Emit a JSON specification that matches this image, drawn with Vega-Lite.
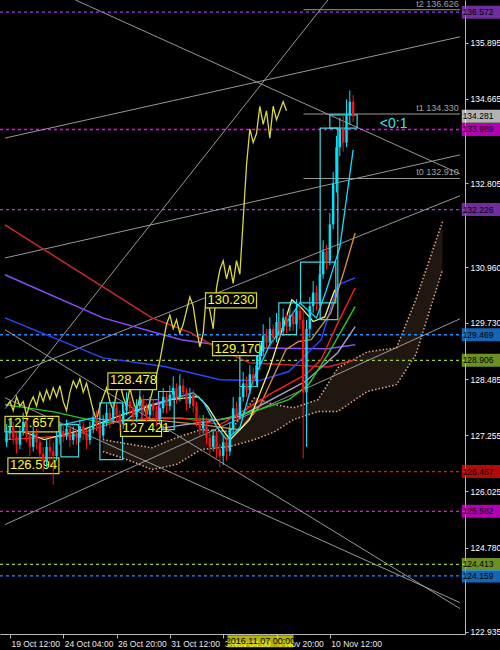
{
"$schema": "https://vega.github.io/schema/vega-lite/v6.json",
"width": 465, "height": 634,
"autosize": {"type": "none"},
"padding": {"left": 0, "top": 0, "right": 35, "bottom": 16},
"background": "#000000",
"config": {"view": {"stroke": null}, "axis": {"grid": false, "labelFont": "Liberation Sans", "labelFontSize": 8.5, "labelColor": "#ffffff", "domainColor": "#b8b8b8", "tickColor": "#b8b8b8"}, "text": {"font": "Liberation Sans"}},
"datasets": {
"candles": [
{"i":-1,"o":127.10,"h":127.50,"l":127.00,"c":127.30},{"i":0,"o":127.30,"h":127.60,"l":127.15,"c":127.45},{"i":1,"o":127.45,"h":127.55,"l":127.05,"c":127.20},{"i":2,"o":127.20,"h":127.30,"l":126.85,"c":127.05},{"i":3,"o":127.05,"h":127.45,"l":126.95,"c":127.35},{"i":4,"o":127.35,"h":127.75,"l":127.25,"c":127.55},{"i":5,"o":127.55,"h":127.60,"l":127.10,"c":127.25},{"i":6,"o":127.25,"h":127.35,"l":126.80,"c":127.00},{"i":7,"o":127.00,"h":127.45,"l":126.90,"c":127.30},{"i":8,"o":127.30,"h":127.40,"l":126.95,"c":127.10},{"i":9,"o":127.10,"h":127.20,"l":126.70,"c":126.85},{"i":10,"o":126.85,"h":127.00,"l":126.45,"c":126.70},{"i":11,"o":126.70,"h":127.15,"l":126.55,"c":127.00},{"i":12,"o":127.00,"h":127.20,"l":126.60,"c":126.90},{"i":13,"o":126.90,"h":127.10,"l":126.17,"c":126.80},{"i":14,"o":126.80,"h":127.35,"l":126.70,"c":127.20},{"i":15,"o":127.20,"h":127.55,"l":127.05,"c":127.35},{"i":16,"o":127.35,"h":127.50,"l":127.10,"c":127.25},{"i":17,"o":127.25,"h":127.60,"l":127.15,"c":127.40},{"i":18,"o":127.40,"h":127.50,"l":127.00,"c":127.15},{"i":19,"o":127.15,"h":127.45,"l":127.05,"c":127.30},{"i":20,"o":127.30,"h":127.40,"l":127.05,"c":127.20},{"i":21,"o":127.20,"h":127.60,"l":127.10,"c":127.45},{"i":22,"o":127.45,"h":127.55,"l":127.15,"c":127.30},{"i":23,"o":127.30,"h":127.40,"l":126.95,"c":127.15},{"i":24,"o":127.15,"h":127.55,"l":127.05,"c":127.40},{"i":25,"o":127.40,"h":127.85,"l":127.30,"c":127.65},{"i":26,"o":127.65,"h":127.80,"l":127.35,"c":127.50},{"i":27,"o":127.50,"h":127.60,"l":127.10,"c":127.25},{"i":28,"o":127.25,"h":127.70,"l":127.15,"c":127.55},{"i":29,"o":127.55,"h":127.95,"l":127.45,"c":127.75},{"i":30,"o":127.75,"h":127.85,"l":127.40,"c":127.60},{"i":31,"o":127.60,"h":128.00,"l":127.50,"c":127.85},{"i":32,"o":127.85,"h":127.95,"l":127.55,"c":127.70},{"i":33,"o":127.70,"h":127.80,"l":127.35,"c":127.50},{"i":34,"o":127.50,"h":127.95,"l":127.40,"c":127.80},{"i":35,"o":127.80,"h":128.20,"l":127.70,"c":128.00},{"i":36,"o":128.00,"h":128.10,"l":127.70,"c":127.85},{"i":37,"o":127.85,"h":127.95,"l":127.50,"c":127.65},{"i":38,"o":127.65,"h":128.05,"l":127.55,"c":127.90},{"i":39,"o":127.90,"h":128.25,"l":127.80,"c":128.05},{"i":40,"o":128.05,"h":128.15,"l":127.70,"c":127.85},{"i":41,"o":127.85,"h":127.95,"l":127.55,"c":127.70},{"i":42,"o":127.70,"h":128.10,"l":127.60,"c":127.95},{"i":43,"o":127.95,"h":128.05,"l":127.65,"c":127.80},{"i":44,"o":127.80,"h":127.90,"l":127.45,"c":127.60},{"i":45,"o":127.60,"h":128.00,"l":127.50,"c":127.85},{"i":46,"o":127.85,"h":128.30,"l":127.75,"c":128.10},{"i":47,"o":128.10,"h":128.20,"l":127.75,"c":127.90},{"i":48,"o":127.90,"h":128.35,"l":127.80,"c":128.15},{"i":49,"o":128.15,"h":128.55,"l":128.05,"c":128.30},{"i":50,"o":128.30,"h":128.40,"l":127.95,"c":128.10},{"i":51,"o":128.10,"h":128.60,"l":128.00,"c":128.35},{"i":52,"o":128.35,"h":128.50,"l":128.05,"c":128.20},{"i":53,"o":128.20,"h":128.30,"l":127.80,"c":127.95},{"i":54,"o":127.95,"h":128.30,"l":127.85,"c":128.15},{"i":55,"o":128.15,"h":128.25,"l":127.75,"c":127.90},{"i":56,"o":127.90,"h":128.00,"l":127.45,"c":127.60},{"i":57,"o":127.60,"h":127.70,"l":127.25,"c":127.40},{"i":58,"o":127.40,"h":127.70,"l":127.30,"c":127.55},{"i":59,"o":127.55,"h":127.65,"l":127.05,"c":127.20},{"i":60,"o":127.20,"h":127.30,"l":126.80,"c":127.00},{"i":61,"o":127.00,"h":127.40,"l":126.90,"c":127.25},{"i":62,"o":127.25,"h":127.35,"l":126.75,"c":126.95},{"i":63,"o":126.95,"h":127.05,"l":126.55,"c":126.80},{"i":64,"o":126.80,"h":127.25,"l":126.60,"c":127.10},{"i":65,"o":127.10,"h":127.20,"l":126.70,"c":126.90},{"i":66,"o":126.90,"h":127.55,"l":126.80,"c":127.40},{"i":67,"o":127.40,"h":128.10,"l":127.30,"c":127.85},{"i":68,"o":127.85,"h":128.00,"l":127.55,"c":127.70},{"i":69,"o":127.70,"h":128.30,"l":127.60,"c":128.10},{"i":70,"o":128.10,"h":128.65,"l":128.00,"c":128.40},{"i":71,"o":128.40,"h":128.55,"l":128.10,"c":128.25},{"i":72,"o":128.25,"h":128.80,"l":128.15,"c":128.60},{"i":73,"o":128.60,"h":128.75,"l":128.30,"c":128.45},{"i":74,"o":128.45,"h":129.00,"l":128.35,"c":128.80},{"i":75,"o":128.80,"h":129.30,"l":128.70,"c":129.10},{"i":76,"o":129.10,"h":129.70,"l":129.00,"c":129.45},{"i":77,"o":129.45,"h":129.60,"l":129.15,"c":129.30},{"i":78,"o":129.30,"h":129.85,"l":129.20,"c":129.60},{"i":79,"o":129.60,"h":129.70,"l":129.25,"c":129.40},{"i":80,"o":129.40,"h":129.95,"l":129.30,"c":129.75},{"i":81,"o":129.75,"h":129.85,"l":129.40,"c":129.55},{"i":82,"o":129.55,"h":130.05,"l":129.45,"c":129.85},{"i":83,"o":129.85,"h":129.95,"l":129.50,"c":129.65},{"i":84,"o":129.65,"h":130.10,"l":129.55,"c":129.90},{"i":85,"o":129.90,"h":130.00,"l":129.55,"c":129.70},{"i":86,"o":129.70,"h":130.25,"l":129.60,"c":130.00},{"i":87,"o":130.00,"h":130.10,"l":129.60,"c":129.80},{"i":88,"o":129.80,"h":130.00,"l":126.75,"c":128.20},{"i":89,"o":128.20,"h":129.80,"l":127.00,"c":129.60},{"i":90,"o":129.60,"h":130.30,"l":129.40,"c":130.10},{"i":91,"o":130.10,"h":130.65,"l":129.95,"c":130.40},{"i":92,"o":130.40,"h":130.55,"l":130.00,"c":130.20},{"i":93,"o":130.20,"h":131.00,"l":130.10,"c":130.80},{"i":94,"o":130.80,"h":131.55,"l":130.70,"c":131.30},{"i":95,"o":131.30,"h":131.45,"l":130.90,"c":131.10},{"i":96,"o":131.10,"h":132.15,"l":131.00,"c":131.90},{"i":97,"o":131.90,"h":133.05,"l":131.80,"c":132.80},{"i":98,"o":132.80,"h":133.85,"l":132.60,"c":133.60},{"i":99,"o":133.60,"h":134.25,"l":133.40,"c":134.00},{"i":100,"o":134.00,"h":134.30,"l":133.50,"c":133.70},{"i":101,"o":133.70,"h":134.65,"l":133.60,"c":134.30},{"i":102,"o":134.30,"h":134.85,"l":134.10,"c":134.60},{"i":103,"o":134.60,"h":134.75,"l":134.15,"c":134.28}
],
"cloud": [
{"i":27.9,"a":127.16,"b":126.90},{"i":36.7,"a":127.05,"b":126.68},{"i":42.6,"a":126.98,"b":126.50},{"i":49.9,"a":127.20,"b":126.61},{"i":57.3,"a":127.38,"b":126.94},{"i":66.1,"a":127.34,"b":127.01},{"i":73.4,"a":128.08,"b":127.16},{"i":79.3,"a":127.93,"b":127.33},{"i":85.1,"a":127.86,"b":127.60},{"i":92.5,"a":128.04,"b":127.78},{"i":98.4,"a":128.74,"b":127.78},{"i":107.2,"a":129.09,"b":128.22},{"i":116,"a":129.18,"b":128.37},{"i":121.8,"a":130.24,"b":129.03},{"i":129.8,"a":131.96,"b":130.90}
],
"ma": [
{"s":"purple","i":-1.5,"p":130.79},{"s":"purple","i":27.9,"p":129.84},{"s":"purple","i":51.4,"p":129.36},{"s":"purple","i":69,"p":129.18},{"s":"purple","i":95.4,"p":129.16},{"s":"purple","i":103.6,"p":129.25},
{"s":"redl","i":-1.5,"p":131.89},{"s":"redl","i":42.6,"p":129.84},{"s":"redl","i":54.3,"p":129.51},{"s":"redl","i":63.1,"p":129.14},{"s":"redl","i":71.9,"p":128.85},{"s":"redl","i":95.4,"p":128.76},{"s":"redl","i":103.6,"p":128.92},
{"s":"blue","i":-1.5,"p":129.84},{"s":"blue","i":27.9,"p":128.96},{"s":"blue","i":46.4,"p":128.77},{"s":"blue","i":63.1,"p":128.48},{"s":"blue","i":74.9,"p":128.46},{"s":"blue","i":83.7,"p":128.66},{"s":"blue","i":93.4,"p":129.36},{"s":"blue","i":98.4,"p":130.57},{"s":"blue","i":103.6,"p":130.72},
{"s":"lav","i":42.6,"p":127.38},{"s":"lav","i":69,"p":127.67},{"s":"lav","i":88.7,"p":128.44},{"s":"lav","i":98.4,"p":129.08},{"s":"lav","i":103.6,"p":129.65},
{"s":"orange","i":42.6,"p":127.60},{"s":"orange","i":57.3,"p":127.49},{"s":"orange","i":69,"p":127.38},{"s":"orange","i":74.9,"p":127.89},{"s":"orange","i":82.8,"p":129.14},{"s":"orange","i":86.6,"p":129.32},{"s":"orange","i":90.4,"p":129.36},{"s":"orange","i":96.3,"p":129.95},{"s":"orange","i":100.4,"p":130.90},{"s":"orange","i":103.6,"p":131.71},
{"s":"green","i":-1.5,"p":127.93},{"s":"green","i":13.2,"p":127.77},{"s":"green","i":27.9,"p":127.53},{"s":"green","i":45.5,"p":127.64},{"s":"green","i":63.1,"p":127.60},{"s":"green","i":74.9,"p":127.82},{"s":"green","i":83.7,"p":128.04},{"s":"green","i":89.6,"p":128.37},{"s":"green","i":95.4,"p":129.03},{"s":"green","i":103.6,"p":130.09},
{"s":"red","i":-1.5,"p":127.16},{"s":"red","i":19.1,"p":127.25},{"s":"red","i":33.8,"p":127.60},{"s":"red","i":51.4,"p":127.64},{"s":"red","i":63.1,"p":127.49},{"s":"red","i":69,"p":127.75},{"s":"red","i":78.7,"p":128.19},{"s":"red","i":88.7,"p":128.59},{"s":"red","i":93.4,"p":128.92},{"s":"red","i":98.4,"p":129.73},{"s":"red","i":103.6,"p":130.50},
{"s":"fasty","i":-1.5,"p":127.49},{"s":"fasty","i":10.3,"p":127.16},{"s":"fasty","i":22,"p":127.38},{"s":"fasty","i":33.8,"p":127.71},{"s":"fasty","i":48.4,"p":128.04},{"s":"fasty","i":56.4,"p":128.11},{"s":"fasty","i":59.3,"p":127.89},{"s":"fasty","i":63.1,"p":127.45},{"s":"fasty","i":66.1,"p":127.16},{"s":"fasty","i":71.9,"p":127.60},{"s":"fasty","i":77.8,"p":128.70},{"s":"fasty","i":84.6,"p":130.24},{"s":"fasty","i":87.5,"p":130.06},{"s":"fasty","i":91,"p":129.76},{"s":"fasty","i":94.5,"p":129.86},{"s":"fasty","i":97.5,"p":130.46},
{"s":"fastc","i":-1.5,"p":127.33},{"s":"fastc","i":7,"p":127.42},{"s":"fastc","i":16,"p":127.49},{"s":"fastc","i":25,"p":127.64},{"s":"fastc","i":34,"p":127.53},{"s":"fastc","i":40,"p":127.88},{"s":"fastc","i":48,"p":128.04},{"s":"fastc","i":55,"p":128.19},{"s":"fastc","i":58,"p":128.00},{"s":"fastc","i":62,"p":127.45},{"s":"fastc","i":65,"p":127.16},{"s":"fastc","i":69,"p":127.42},{"s":"fastc","i":73,"p":128.48},{"s":"fastc","i":78,"p":129.25},{"s":"fastc","i":84,"p":129.84},{"s":"fastc","i":87,"p":130.17},{"s":"fastc","i":90,"p":129.97},{"s":"fastc","i":92,"p":129.84},{"s":"fastc","i":95,"p":130.46},{"s":"fastc","i":99,"p":131.40},{"s":"fastc","i":103,"p":133.54},
{"s":"chik","i":-1,"p":127.9},{"s":"chik","i":0,"p":128.0},{"s":"chik","i":1,"p":127.8},{"s":"chik","i":2,"p":128.1},{"s":"chik","i":3,"p":127.9},{"s":"chik","i":4,"p":128.0},{"s":"chik","i":5,"p":127.7},{"s":"chik","i":6,"p":127.95},{"s":"chik","i":7,"p":128.1},{"s":"chik","i":8,"p":127.9},{"s":"chik","i":9,"p":128.2},{"s":"chik","i":10,"p":128.0},{"s":"chik","i":11,"p":128.25},{"s":"chik","i":12,"p":128.05},{"s":"chik","i":13,"p":128.3},{"s":"chik","i":14,"p":128.1},{"s":"chik","i":15,"p":128.35},{"s":"chik","i":16,"p":128.0},{"s":"chik","i":17,"p":127.8},{"s":"chik","i":18,"p":128.2},{"s":"chik","i":19,"p":128.45},{"s":"chik","i":20,"p":128.3},{"s":"chik","i":21,"p":128.5},{"s":"chik","i":22,"p":128.2},{"s":"chik","i":23,"p":128.4},{"s":"chik","i":24,"p":128.1},{"s":"chik","i":25,"p":127.8},{"s":"chik","i":26,"p":127.6},{"s":"chik","i":27,"p":127.9},{"s":"chik","i":28,"p":128.1},{"s":"chik","i":29,"p":128.3},{"s":"chik","i":30,"p":128.0},{"s":"chik","i":31,"p":127.8},{"s":"chik","i":32,"p":128.2},{"s":"chik","i":33,"p":128.4},{"s":"chik","i":34,"p":128.1},{"s":"chik","i":35,"p":127.9},{"s":"chik","i":36,"p":128.3},{"s":"chik","i":37,"p":128.0},{"s":"chik","i":38,"p":127.8},{"s":"chik","i":39,"p":128.1},{"s":"chik","i":40,"p":127.9},{"s":"chik","i":41,"p":127.7},{"s":"chik","i":42,"p":128.0},{"s":"chik","i":43,"p":128.3},{"s":"chik","i":44,"p":128.6},{"s":"chik","i":45,"p":128.9},{"s":"chik","i":46,"p":129.3},{"s":"chik","i":47,"p":129.7},{"s":"chik","i":48,"p":129.9},{"s":"chik","i":49,"p":129.6},{"s":"chik","i":50,"p":129.8},{"s":"chik","i":51,"p":129.5},{"s":"chik","i":52,"p":129.7},{"s":"chik","i":53,"p":130.0},{"s":"chik","i":54,"p":130.3},{"s":"chik","i":55,"p":130.1},{"s":"chik","i":56,"p":129.6},{"s":"chik","i":57,"p":129.2},{"s":"chik","i":58,"p":129.5},{"s":"chik","i":59,"p":130.4},{"s":"chik","i":60,"p":130.0},{"s":"chik","i":61,"p":129.6},{"s":"chik","i":62,"p":130.5},{"s":"chik","i":63,"p":130.9},{"s":"chik","i":64,"p":131.1},{"s":"chik","i":65,"p":130.7},{"s":"chik","i":66,"p":131.0},{"s":"chik","i":67,"p":130.6},{"s":"chik","i":68,"p":131.1},{"s":"chik","i":69,"p":130.8},{"s":"chik","i":70,"p":132.0},{"s":"chik","i":71,"p":133.2},{"s":"chik","i":72,"p":134.0},{"s":"chik","i":73,"p":133.7},{"s":"chik","i":74,"p":133.9},{"s":"chik","i":75,"p":134.5},{"s":"chik","i":76,"p":134.1},{"s":"chik","i":77,"p":134.4},{"s":"chik","i":78,"p":133.8},{"s":"chik","i":79,"p":134.5},{"s":"chik","i":80,"p":134.2},{"s":"chik","i":81,"p":134.4},{"s":"chik","i":82,"p":134.6},{"s":"chik","i":83,"p":134.4}
],
"tl": [
{"k":"T1","i":-1.47,"p":133.80},{"k":"T1","i":135.06,"p":136.03},
{"k":"T2","i":-1.47,"p":131.16},{"k":"T2","i":135.06,"p":133.43},
{"k":"T3","i":-1.47,"p":128.52},{"k":"T3","i":135.06,"p":132.53},
{"k":"T4","i":19.67,"p":136.84},{"k":"T4","i":135.06,"p":133.01},
{"k":"T5","i":-1.47,"p":127.84},{"k":"T5","i":95.4,"p":136.84},
{"k":"T6","i":-1.47,"p":125.29},{"k":"T6","i":135.06,"p":129.82},
{"k":"T7","i":-1.47,"p":129.58},{"k":"T7","i":135.06,"p":123.44},
{"k":"T8","i":-1.47,"p":128.08},{"k":"T8","i":135.06,"p":123.57}
],
"hl": [
{"p":136.572,"t":"136.572"},{"p":133.989,"t":"133.989"},{"p":132.226,"t":"132.226"},{"p":129.469,"t":"129.469"},{"p":128.906,"t":"128.906"},{"p":126.457,"t":"126.457"},{"p":125.582,"t":"125.582"},{"p":124.413,"t":"124.413"},{"p":124.159,"t":"124.159"}
],
"tlab": [
{"p":136.626,"t":"t2 136.626"},{"p":134.330,"t":"t1 134.330"},{"p":132.910,"t":"t0 132.910"}
],
"bx": [
{"k":"c","i1":93.1,"i2":98.4,"p1":134.02,"p2":129.80},
{"k":"c","i1":96,"i2":104.2,"p1":134.31,"p2":134.02},
{"k":"c","i1":87.2,"i2":97.8,"p1":131.07,"p2":130.17},
{"k":"c","i1":80.7,"i2":86,"p1":130.17,"p2":129.47},
{"k":"c","i1":69,"i2":74.3,"p1":129.07,"p2":128.33},
{"k":"c","i1":27,"i2":33.8,"p1":127.97,"p2":126.72},
{"k":"c","i1":15.3,"i2":20.6,"p1":127.49,"p2":126.78},
{"k":"c","i1":44.6,"i2":49.3,"p1":128.22,"p2":127.38},
{"k":"m","i1":39.6,"i2":44.6,"p1":128.04,"p2":127.56}
],
"yb": [
{"t":"127.657","i1":-1.47,"i2":14.7,"p1":127.67,"p2":127.33},
{"t":"127.421","i1":33.2,"i2":45.5,"p1":127.58,"p2":127.23},
{"t":"126.594","i1":-0.6,"i2":14.7,"p1":126.76,"p2":126.41},
{"t":"128.478","i1":29.4,"i2":44,"p1":128.63,"p2":128.26},
{"t":"129.170","i1":60.8,"i2":75.5,"p1":129.32,"p2":129.01},
{"t":"130.230","i1":58.7,"i2":74,"p1":130.39,"p2":130.06}
]
},
"resolve": {"scale": {"color": "independent", "stroke": "independent", "strokeWidth": "independent"}},
"layer": [
{"data": {"name": "cloud"}, "mark": {"type": "area", "color": "#c88e6c", "opacity": 0.16},
 "encoding": {
  "x": {"field": "i", "type": "quantitative", "title": null, "scale": {"domain": [-1.47, 135.06], "nice": false, "zero": false},
        "axis": {"orient": "bottom", "zindex": 0, "values": [0,16,32,48,64,80,96], "labelExpr": "['19 Oct 12:00','24 Oct 04:00','26 Oct 20:00','31 Oct 12:00','3 Nov 04:00','7 Nov 20:00','10 Nov 12:00'][datum.value/16]", "labelAlign": "left", "labelOffset": 1, "tickSize": 4, "labelPadding": 1, "labelFlush": false, "labelOverlap": false, "labelBound": false, "labelColor": "#e8e8e8"}},
  "y": {"field": "a", "type": "quantitative", "title": null, "scale": {"domain": [122.88, 136.84], "nice": false, "zero": false},
        "axis": {"orient": "right", "zindex": 0, "values": [135.895,135.28,134.665,133.42,132.805,131.575,130.96,130.345,129.73,129.1,128.485,127.87,127.255,126.64,126.025,125.41,124.78,123.55,122.935], "format": ".3f", "tickSize": 3, "labelPadding": 2, "labelFlush": false, "labelOverlap": false, "labelBound": false}},
  "y2": {"field": "b"}}},
{"data": {"name": "cloud"}, "mark": {"type": "line", "color": "#e0a888", "strokeWidth": 1.5, "strokeDash": [1.5, 2]},
 "encoding": {"x": {"field": "i", "type": "quantitative", "title": null}, "y": {"field": "a", "type": "quantitative", "title": null}}},
{"data": {"name": "cloud"}, "mark": {"type": "line", "color": "#e0a888", "strokeWidth": 1.5, "strokeDash": [1.5, 2]},
 "encoding": {"x": {"field": "i", "type": "quantitative", "title": null}, "y": {"field": "b", "type": "quantitative", "title": null}}},
{"data": {"name": "hl"}, "mark": {"type": "rule", "strokeDash": [3, 3], "strokeWidth": 1.3},
 "encoding": {"y": {"field": "p", "type": "quantitative", "title": null},
  "color": {"field": "t", "type": "nominal", "legend": null, "scale": {"domain": ["136.572","133.989","132.226","129.469","128.906","126.457","125.582","124.413","124.159"], "range": ["#9b40e0","#ff00ff","#9b40e0","#1e90ff","#9acd32","#ff1010","#ff00ff","#9acd32","#1e90ff"]}}}},
{"mark": {"type": "rule", "color": "#d020d0", "strokeWidth": 2}, "encoding": {"y": {"datum": 133.989, "type": "quantitative"}, "x": {"datum": -1.47, "type": "quantitative"}, "x2": {"datum": 93}}},
{"data": {"name": "tl"}, "mark": {"type": "line", "color": "#a8a8a8", "strokeWidth": 0.9},
 "encoding": {"x": {"field": "i", "type": "quantitative", "title": null}, "y": {"field": "p", "type": "quantitative", "title": null}, "detail": {"field": "k"}}},
{"mark": {"type": "rule", "color": "#a0a0a0", "strokeWidth": 1}, "encoding": {"y": {"datum": 134.281, "type": "quantitative"}}},
{"data": {"name": "tlab"}, "mark": {"type": "rule", "color": "#9a9a9a", "strokeWidth": 1},
 "encoding": {"y": {"field": "p", "type": "quantitative", "title": null}, "x": {"datum": 88.1, "type": "quantitative"}, "x2": {"datum": 135.06}}},
{"data": {"name": "tlab"}, "mark": {"type": "text", "color": "#a0a0a0", "fontSize": 9, "align": "right", "baseline": "bottom", "dy": -1},
 "encoding": {"y": {"field": "p", "type": "quantitative", "title": null}, "x": {"datum": 134.7, "type": "quantitative"}, "text": {"field": "t"}}},
{"mark": {"type": "rule", "color": "#c8c828", "strokeWidth": 1.5}, "encoding": {"x": {"datum": 75, "type": "quantitative"}}},
{"mark": {"type": "rule", "color": "#e040e0", "strokeWidth": 1.2}, "encoding": {"x": {"datum": 99.2, "type": "quantitative"}}},
{"data": {"name": "ma"}, "mark": {"type": "line"},
 "encoding": {"x": {"field": "i", "type": "quantitative", "title": null}, "y": {"field": "p", "type": "quantitative", "title": null},
  "color": {"field": "s", "type": "nominal", "legend": null, "scale": {"domain": ["purple","redl","blue","lav","orange","green","red","fasty","fastc","chik"], "range": ["#8a4cff","#d02828","#2848ff","#a0a0c8","#d08a3a","#22cc22","#ff2020","#f4f070","#10d8ff","#d8d840"]}},
  "strokeWidth": {"field": "s", "type": "ordinal", "legend": null, "scale": {"domain": ["purple","redl","blue","lav","orange","green","red","fasty","fastc","chik"], "range": [1.5,1.3,1.5,1,1,1.5,2.2,1.8,2,1.2]}}}},
{"data": {"name": "bx"}, "mark": {"type": "rect", "fillOpacity": 0, "strokeWidth": 1.2},
 "encoding": {"x": {"field": "i1", "type": "quantitative", "title": null}, "x2": {"field": "i2"}, "y": {"field": "p1", "type": "quantitative", "title": null}, "y2": {"field": "p2"},
  "stroke": {"field": "k", "type": "nominal", "legend": null, "scale": {"domain": ["c","m"], "range": ["#40d8e0","#e040e0"]}}}},
{"data": {"name": "yb"}, "mark": {"type": "rect", "fill": "#000000", "stroke": "#d8d820", "strokeWidth": 1.2},
 "encoding": {"x": {"field": "i1", "type": "quantitative", "title": null}, "x2": {"field": "i2"}, "y": {"field": "p1", "type": "quantitative", "title": null}, "y2": {"field": "p2"}}},
{"data": {"name": "yb"}, "mark": {"type": "text", "color": "#ffff20", "fontSize": 13, "align": "left", "baseline": "top", "dx": 2, "dy": 1},
 "encoding": {"x": {"field": "i1", "type": "quantitative", "title": null}, "y": {"field": "p1", "type": "quantitative", "title": null}, "text": {"field": "t"}}},
{"data": {"name": "candles"}, "mark": {"type": "rule", "strokeWidth": 1},
 "encoding": {"x": {"field": "i", "type": "quantitative", "title": null}, "y": {"field": "l", "type": "quantitative", "title": null}, "y2": {"field": "h"},
  "color": {"condition": {"test": "datum.c >= datum.o", "value": "#00e5ff"}, "value": "#ff1010"}}},
{"data": {"name": "candles"}, "mark": {"type": "bar", "size": 2.4},
 "encoding": {"x": {"field": "i", "type": "quantitative", "title": null}, "y": {"field": "o", "type": "quantitative", "title": null}, "y2": {"field": "c"},
  "color": {"condition": {"test": "datum.c >= datum.o", "value": "#00e5ff"}, "value": "#ff1010"}}},
{"data": {"name": "hl"}, "mark": {"type": "tick", "orient": "horizontal", "size": 40, "thickness": 13},
 "encoding": {"x": {"datum": 141.6, "type": "quantitative"}, "y": {"field": "p", "type": "quantitative", "title": null},
  "color": {"field": "t", "type": "nominal", "legend": null, "scale": {"domain": ["136.572","133.989","132.226","129.469","128.906","126.457","125.582","124.413","124.159"], "range": ["#a040e0","#ff00ff","#a040e0","#1e90ff","#9acd32","#ff1010","#ff00ff","#9acd32","#1e90ff"]}}}},
{"data": {"name": "hl"}, "mark": {"type": "text", "color": "#000000", "fontSize": 8.5, "align": "left", "baseline": "middle"},
 "encoding": {"x": {"datum": 135.85, "type": "quantitative"}, "y": {"field": "p", "type": "quantitative", "title": null}, "text": {"field": "t"}}},
{"data": {"values": [{"t": "134.281", "p": 134.281}]}, "mark": {"type": "tick", "orient": "horizontal", "size": 40, "thickness": 13, "color": "#ffffff"},
 "encoding": {"x": {"datum": 141.6, "type": "quantitative"}, "y": {"field": "p", "type": "quantitative", "title": null}}},
{"data": {"values": [{"t": "134.281", "p": 134.281}]}, "mark": {"type": "text", "color": "#000000", "fontSize": 8.5, "align": "left", "baseline": "middle"},
 "encoding": {"x": {"datum": 135.85, "type": "quantitative"}, "y": {"field": "p", "type": "quantitative", "title": null}, "text": {"field": "t"}}},
{"data": {"values": [{"t": "2016.11.07 00:00"}]}, "mark": {"type": "tick", "orient": "horizontal", "size": 66, "thickness": 12, "color": "#ffff00"},
 "encoding": {"x": {"datum": 75.2, "type": "quantitative"}, "y": {"datum": 122.72, "type": "quantitative"}}},
{"data": {"values": [{"t": "2016.11.07 00:00"}]}, "mark": {"type": "text", "color": "#000000", "fontSize": 9, "align": "center", "baseline": "middle"},
 "encoding": {"x": {"datum": 75.2, "type": "quantitative"}, "y": {"datum": 122.72, "type": "quantitative"}, "text": {"field": "t"}}},
{"data": {"values": [{"t": "<0:1"}]}, "mark": {"type": "text", "color": "#40e0e0", "fontSize": 14, "align": "left", "baseline": "middle"},
 "encoding": {"x": {"datum": 111, "type": "quantitative"}, "y": {"datum": 134.11, "type": "quantitative"}, "text": {"field": "t"}}}
]
}
